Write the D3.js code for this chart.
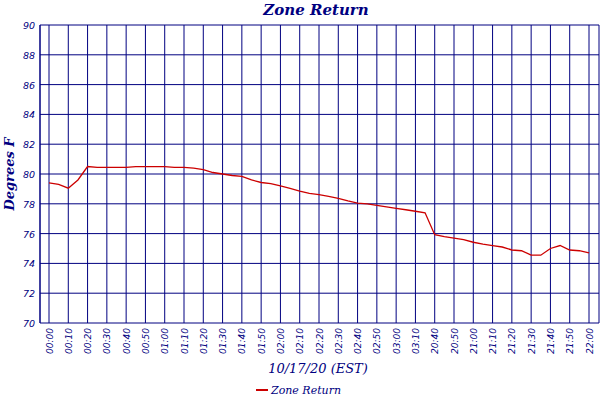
<!DOCTYPE html>
<html><head><meta charset="utf-8">
<script src="https://cdn.jsdelivr.net/npm/d3@7"></script>
<style>body{margin:0;background:#fff}</style></head>
<body><svg id="c" width="600" height="400"></svg>
<script>
const times = ["00:00","00:05","00:10","00:15","00:20","00:25","00:30","00:35","00:40","00:45","00:50","00:55","01:00","01:05","01:10","01:15","01:20","01:25","01:30","01:35","01:40","01:45","01:50","01:55","02:00","02:05","02:10","02:15","02:20","02:25","02:30","02:35","02:40","02:45","02:50","02:55","03:00","03:05","03:10","03:15","20:40","20:45","20:50","20:55","21:00","21:05","21:10","21:15","21:20","21:25","21:30","21:35","21:40","21:45","21:50","21:55","22:00"];
const zoneReturn = [79.4,79.3,79.05,79.6,80.5,80.45,80.45,80.45,80.45,80.5,80.5,80.5,80.5,80.45,80.45,80.4,80.3,80.1,80.0,79.9,79.84,79.6,79.43,79.35,79.2,79.03,78.85,78.7,78.62,78.5,78.37,78.2,78.05,78.0,77.9,77.8,77.7,77.6,77.5,77.4,75.93,75.8,75.7,75.6,75.42,75.3,75.2,75.1,74.9,74.85,74.55,74.55,75.0,75.2,74.9,74.85,74.7];
const tickLabels = times.filter((d,i)=>i%2===0);
const yTicks = [70,72,74,76,78,80,82,84,86,88,90];

const svg = d3.select("#c");
const L=40,R=599,T=25,B=323;
const navy="#000080";
const x = d3.scalePoint().domain(times).range([49,589]);
const y = d3.scaleLinear().domain([70,90]).range([B,T]);

svg.append("g").selectAll("line").data(yTicks).join("line")
  .attr("x1",L).attr("x2",R).attr("y1",d=>y(d)).attr("y2",d=>y(d))
  .attr("stroke",navy).attr("stroke-width",1);
svg.append("g").selectAll("line").data(tickLabels).join("line")
  .attr("x1",d=>x(d)).attr("x2",d=>x(d)).attr("y1",T).attr("y2",B)
  .attr("stroke",navy).attr("stroke-width",1);
svg.append("line").attr("x1",L).attr("x2",L).attr("y1",T).attr("y2",B).attr("stroke",navy).attr("stroke-width",1.5);
svg.append("line").attr("x1",R).attr("x2",R).attr("y1",T).attr("y2",B).attr("stroke",navy).attr("stroke-width",1);

svg.append("g").selectAll("text").data(yTicks).join("text")
  .attr("x",35).attr("y",d=>y(d)+4).attr("text-anchor","end")
  .attr("font-family","DejaVu Sans").attr("font-style","italic").attr("font-size",9.5).attr("fill",navy)
  .text(d=>d);
svg.append("g").selectAll("text").data(tickLabels).join("text")
  .attr("transform",d=>`translate(${x(d)+3.5},328) rotate(-90)`).attr("text-anchor","end")
  .attr("font-family","DejaVu Sans").attr("font-style","italic").attr("font-size",9).attr("fill",navy)
  .text(d=>d);

svg.append("path").datum(zoneReturn)
  .attr("d",d3.line().x((d,i)=>x(times[i])).y(d=>y(d)))
  .attr("fill","none").attr("stroke","#cc0000").attr("stroke-width",1.3);

svg.append("text").attr("x",316).attr("y",15).attr("text-anchor","middle")
  .attr("font-family","DejaVu Serif").attr("font-style","italic").attr("font-weight","bold").attr("font-size",15).attr("fill",navy)
  .text("Zone Return");
svg.append("text").attr("transform","translate(14,174) rotate(-90)").attr("text-anchor","middle")
  .attr("font-family","DejaVu Serif").attr("font-style","italic").attr("font-weight","bold").attr("font-size",13).attr("fill",navy)
  .text("Degrees F");
svg.append("text").attr("x",318).attr("y",373).attr("text-anchor","middle")
  .attr("font-family","DejaVu Serif").attr("font-style","italic").attr("font-size",13).attr("fill",navy)
  .text("10/17/20 (EST)");
svg.append("line").attr("x1",256).attr("x2",268).attr("y1",390).attr("y2",390).attr("stroke","#cc0000").attr("stroke-width",2);
svg.append("text").attr("x",271).attr("y",394).attr("font-family","DejaVu Serif").attr("font-style","italic").attr("font-size",11).attr("fill",navy)
  .text("Zone Return");
</script></body></html>
